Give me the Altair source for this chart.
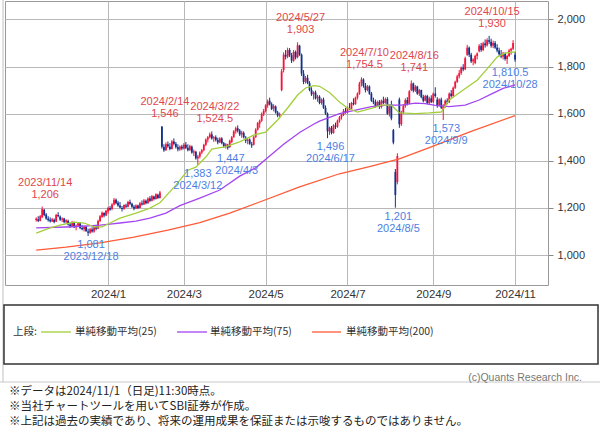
import altair as alt
import pandas as pd

# ---------------- trading calendar (TSE) ----------------
holidays = ["2023-11-23", "2024-01-01", "2024-01-02", "2024-01-03", "2024-01-08",
            "2024-02-12", "2024-02-23", "2024-03-20", "2024-04-29", "2024-05-03",
            "2024-05-06", "2024-07-15", "2024-08-12", "2024-09-16", "2024-09-23",
            "2024-10-14"]
trade_days = [d for d in pd.bdate_range("2023-11-09", "2024-11-01")
              if d.strftime("%Y-%m-%d") not in holidays]

# ---------------- daily OHLC ----------------
open_ = [
    1148, 1152, 1145, 1160, 1192, 1172, 1155, 1150, 1143, 1150, 1142, 1170, 1163, 1150, 1155,
    1140, 1145, 1130, 1122, 1138, 1118, 1125, 1135, 1115, 1110, 1120, 1100, 1095, 1108, 1100, 1118, 1112, 1145, 1162, 1178, 1168,
    1185, 1200, 1195, 1215, 1235, 1222, 1210, 1200, 1195, 1210, 1205, 1225, 1218, 1205, 1198, 1210, 1200, 1220, 1215,
    1230, 1220, 1240, 1230, 1248, 1238, 1256, 1242, 1546, 1458, 1445, 1470, 1460, 1450, 1482, 1472, 1458, 1448, 1460,
    1452, 1468, 1455, 1445, 1460, 1435, 1438, 1410, 1418, 1435, 1445, 1468, 1490, 1500, 1512, 1495, 1500, 1488, 1478, 1495,
    1475, 1462, 1468, 1458, 1480, 1500, 1525, 1538, 1528, 1512, 1518, 1498, 1485, 1490, 1470, 1468, 1500, 1532, 1558, 1570, 1598,
    1612, 1635, 1655, 1640, 1622, 1630, 1605, 1592, 1700, 1785, 1850, 1842, 1870, 1848, 1825, 1862, 1840, 1888, 1850, 1770, 1735,
    1752, 1730, 1700, 1682, 1690, 1665, 1672, 1645, 1660, 1625, 1600, 1525, 1540, 1518, 1550, 1545, 1570, 1585, 1595, 1612,
    1605, 1625, 1620, 1645, 1640, 1668, 1685, 1728, 1745, 1718, 1700, 1715, 1685, 1655, 1648, 1632, 1650, 1628, 1655, 1645, 1662, 1600,
    1640, 1530, 1352, 1310, 1660, 1555, 1605, 1632, 1658, 1642, 1700, 1728, 1698, 1715, 1685, 1700, 1670, 1655, 1675, 1645, 1665,
    1650, 1685, 1660, 1635, 1660, 1615, 1632, 1655, 1648, 1685, 1675, 1710, 1735, 1758, 1772, 1795, 1788, 1850, 1880,
    1850, 1822, 1815, 1845, 1865, 1888, 1870, 1898, 1890, 1912, 1905, 1888, 1900, 1880, 1868, 1852, 1842, 1855, 1832, 1845, 1868, 1875,
    1850,
]
high = [
    1160, 1165, 1170, 1206, 1196, 1178, 1165, 1160, 1158, 1155, 1175, 1182, 1168, 1160, 1158,
    1152, 1150, 1140, 1145, 1142, 1130, 1140, 1138, 1128, 1125, 1124, 1112, 1115, 1118, 1122, 1128, 1150, 1170, 1185, 1182, 1192,
    1205, 1208, 1220, 1242, 1240, 1230, 1225, 1208, 1215, 1218, 1230, 1235, 1222, 1212, 1215, 1214, 1225, 1232, 1238,
    1236, 1245, 1250, 1255, 1252, 1262, 1260, 1272, 1546, 1470, 1478, 1482, 1475, 1488, 1495, 1480, 1470, 1465, 1468,
    1475, 1480, 1470, 1468, 1465, 1448, 1442, 1425, 1440, 1450, 1472, 1495, 1505, 1520, 1524.5, 1505, 1508, 1498, 1500, 1500,
    1480, 1475, 1472, 1490, 1505, 1530, 1545, 1550, 1535, 1528, 1525, 1505, 1498, 1495, 1480, 1505, 1538, 1565, 1575, 1605, 1620,
    1640, 1660, 1668, 1648, 1640, 1635, 1612, 1605, 1790, 1860, 1870, 1880, 1878, 1858, 1870, 1868, 1903, 1892, 1855, 1785, 1760,
    1765, 1738, 1712, 1695, 1698, 1680, 1678, 1665, 1668, 1635, 1605, 1545, 1548, 1555, 1562, 1575, 1590, 1600, 1620, 1625,
    1630, 1645, 1650, 1665, 1672, 1690, 1735, 1754.5, 1750, 1730, 1722, 1720, 1692, 1668, 1660, 1655, 1658, 1660, 1672, 1668, 1670, 1640,
    1655, 1535, 1365, 1432, 1668, 1612, 1640, 1665, 1670, 1700, 1741, 1732, 1722, 1718, 1705, 1702, 1680, 1680, 1680, 1672, 1678,
    1690, 1712, 1670, 1665, 1668, 1640, 1660, 1665, 1690, 1700, 1715, 1740, 1765, 1785, 1800, 1810, 1842, 1892, 1885,
    1858, 1835, 1850, 1860, 1895, 1900, 1905, 1915, 1920, 1930, 1918, 1910, 1908, 1895, 1880, 1870, 1862, 1860, 1850, 1875, 1880, 1912,
    1862,
]
low = [
    1142, 1140, 1143, 1158, 1165, 1150, 1142, 1138, 1140, 1135, 1140, 1160, 1145, 1140, 1135,
    1132, 1125, 1115, 1118, 1115, 1105, 1120, 1110, 1105, 1100, 1098, 1081, 1090, 1095, 1095, 1105, 1110, 1140, 1158, 1160, 1165,
    1175, 1188, 1190, 1210, 1215, 1205, 1198, 1185, 1192, 1200, 1202, 1212, 1200, 1190, 1195, 1195, 1198, 1210, 1212,
    1215, 1218, 1225, 1228, 1232, 1235, 1238, 1240, 1452, 1438, 1442, 1455, 1445, 1448, 1465, 1452, 1440, 1442, 1445,
    1448, 1450, 1440, 1442, 1430, 1420, 1405, 1383, 1410, 1428, 1440, 1462, 1478, 1495, 1490, 1480, 1482, 1470, 1475, 1470,
    1455, 1452, 1447, 1455, 1475, 1498, 1515, 1520, 1505, 1498, 1495, 1475, 1470, 1468, 1455, 1465, 1498, 1528, 1540, 1565, 1590,
    1605, 1625, 1635, 1615, 1610, 1600, 1585, 1580, 1695, 1775, 1830, 1835, 1840, 1815, 1820, 1830, 1835, 1845, 1760, 1725, 1728,
    1725, 1695, 1675, 1660, 1660, 1650, 1640, 1638, 1620, 1595, 1496, 1510, 1512, 1515, 1535, 1540, 1562, 1575, 1590, 1600,
    1600, 1615, 1618, 1635, 1638, 1660, 1680, 1715, 1710, 1690, 1695, 1680, 1650, 1640, 1625, 1628, 1620, 1622, 1640, 1642, 1595, 1588,
    1572, 1470, 1201, 1300, 1540, 1548, 1598, 1625, 1635, 1640, 1695, 1690, 1692, 1680, 1675, 1665, 1648, 1652, 1640, 1640, 1645,
    1645, 1668, 1625, 1630, 1620, 1573, 1625, 1640, 1645, 1668, 1670, 1705, 1730, 1750, 1765, 1780, 1785, 1845, 1840,
    1815, 1805, 1810, 1830, 1860, 1862, 1865, 1880, 1885, 1895, 1880, 1878, 1875, 1860, 1845, 1835, 1830, 1825, 1810.5, 1840, 1850, 1870,
    1820,
]
close = [
    1155, 1145, 1165, 1195, 1170, 1155, 1148, 1143, 1152, 1140, 1170, 1165, 1150, 1155, 1140,
    1148, 1130, 1120, 1140, 1118, 1125, 1135, 1115, 1110, 1120, 1102, 1095, 1110, 1100, 1118, 1112, 1145, 1165, 1180, 1168, 1188,
    1200, 1192, 1215, 1235, 1220, 1210, 1202, 1195, 1212, 1205, 1225, 1218, 1205, 1198, 1210, 1200, 1220, 1215, 1232,
    1220, 1240, 1230, 1250, 1238, 1258, 1242, 1265, 1460, 1445, 1470, 1462, 1450, 1482, 1472, 1458, 1448, 1460, 1452,
    1468, 1455, 1445, 1462, 1435, 1440, 1410, 1418, 1435, 1445, 1468, 1490, 1500, 1512, 1495, 1500, 1488, 1478, 1495, 1475,
    1462, 1470, 1455, 1485, 1500, 1525, 1538, 1528, 1512, 1520, 1500, 1485, 1490, 1472, 1465, 1500, 1532, 1560, 1570, 1598, 1612,
    1635, 1652, 1640, 1620, 1632, 1605, 1592, 1598, 1780, 1850, 1842, 1870, 1848, 1825, 1862, 1838, 1890, 1850, 1770, 1735, 1752,
    1730, 1700, 1682, 1690, 1665, 1672, 1645, 1660, 1625, 1600, 1525, 1540, 1518, 1550, 1545, 1570, 1585, 1595, 1612, 1605,
    1625, 1620, 1645, 1640, 1668, 1685, 1728, 1745, 1718, 1700, 1715, 1685, 1655, 1648, 1632, 1650, 1628, 1655, 1645, 1662, 1600, 1630,
    1580, 1478, 1255, 1420, 1555, 1605, 1632, 1658, 1642, 1695, 1728, 1698, 1715, 1685, 1700, 1670, 1655, 1675, 1645, 1665, 1650,
    1685, 1675, 1635, 1660, 1625, 1632, 1655, 1648, 1685, 1675, 1710, 1735, 1758, 1772, 1795, 1788, 1835, 1880, 1850,
    1822, 1830, 1845, 1855, 1888, 1870, 1898, 1890, 1912, 1905, 1888, 1900, 1880, 1868, 1852, 1842, 1855, 1832, 1845, 1868, 1875, 1900,
    1830,
]

# ---------------- moving averages (sampled from the chart) ----------------
ma25_pos = [0, 7, 12, 19, 24, 29, 33, 37, 42, 50, 57, 62, 70, 76, 80, 85, 88, 95, 102, 109, 115, 121, 126,
            131, 135, 139, 142, 147, 152, 156, 161, 168, 173, 178, 182, 190, 197, 203, 207, 214, 221, 226, 231, 235, 240]
ma25_val = [1093, 1115, 1127, 1140, 1136, 1120, 1120, 1136, 1157, 1178, 1199, 1222, 1297, 1360, 1373, 1416, 1450,
            1460, 1480, 1509, 1522, 1573, 1624, 1679, 1709, 1719, 1716, 1690, 1649, 1624, 1607, 1622, 1636, 1636,
            1603, 1600, 1603, 1607, 1658, 1700, 1742, 1790, 1840, 1857, 1862]
ma75_pos = [0, 15, 24, 32, 37, 42, 50, 57, 65, 72, 82, 92, 102, 110, 117, 124, 132, 139, 142, 146, 152, 160,
            168, 176, 183, 190, 195, 200, 207, 215, 222, 228, 234, 240]
ma75_val = [1115, 1119, 1123, 1127, 1131, 1136, 1144, 1157, 1178, 1210, 1242, 1276, 1335, 1370, 1420, 1470, 1520,
            1555, 1568, 1581, 1600, 1615, 1630, 1636, 1636, 1645, 1643, 1635, 1630, 1636, 1658, 1683, 1707, 1722]
ma200_pos = [0, 15, 32, 49, 66, 82, 97, 111, 132, 152, 167, 182, 199, 217, 240]
ma200_val = [1021, 1034, 1052, 1076, 1106, 1138, 1178, 1222, 1289, 1345, 1375, 1408, 1462, 1522, 1592]

# ---------------- high / low annotations ----------------
anno_dates = ["2023-11-14", "2024-02-14", "2024-03-22", "2024-05-27", "2024-07-10", "2024-08-16", "2024-10-15",
              "2023-12-18", "2024-03-12", "2024-04-03", "2024-06-17", "2024-08-05", "2024-09-09", "2024-10-28"]
anno_prices = [1206, 1546, 1524.5, 1903, 1754.5, 1741, 1930,
               1081, 1383, 1447, 1496, 1201, 1573, 1810.5]
anno_kinds = ["high"] * 7 + ["low"] * 7

tick_months = ["2024-01", "2024-03", "2024-05", "2024-07", "2024-09", "2024-11"]
tick_labels = ["2024/1", "2024/3", "2024/5", "2024/7", "2024/9", "2024/11"]
price_ticks = [1000, 1200, 1400, 1600, 1800, 2000]

legend_labels = ["単純移動平均(25)", "単純移動平均(75)", "単純移動平均(200)"]
footnotes = ["※データは2024/11/1（日足)11:30時点。",
             "※当社チャートツールを用いてSBI証券が作成。",
             "※上記は過去の実績であり、将来の運用成果を保証または示唆するものではありません。"]

# label nudges (pixels) to keep two crowded low labels apart, as in the reference
label_nudge = {"2024-03-12": -3, "2024-04-03": 6}

# ---------------- build tables ----------------
keys = [d.strftime("%Y-%m-%d") for d in trade_days]
pos_of = {k: i for i, k in enumerate(keys)}
tick_pos = [min(i for i, k in enumerate(keys) if k.startswith(m)) for m in tick_months]

candles = pd.DataFrame({
    "pos": list(range(len(trade_days))),
    "open": open_, "high": high, "low": low, "close": close,
})
candles["dir"] = ["up" if c >= o else "down" for o, c in zip(open_, close)]


def fmt_val(v):
    return f"{int(v):,}" if float(v).is_integer() else f"{v:,}"


anno = pd.DataFrame({
    "date": anno_dates,
    "pos": [pos_of[d] for d in anno_dates],
    "price": anno_prices,
    "kind": anno_kinds,
    "dlabel": [f"{int(d[0:4])}/{int(d[5:7])}/{int(d[8:10])}" for d in anno_dates],
    "vlabel": [fmt_val(v) for v in anno_prices],
})

RED = "#f5143c"
BLUE = "#12318c"
HI_TXT = "#e0474c"
LO_TXT = "#4d7fe3"
C25, C75, C200 = "#a3cf3a", "#a445f2", "#ff5a36"
NUM_FONT = "Liberation Sans"
JP_FONT = "Noto Sans CJK JP"

xs = alt.Scale(domain=[-15.64, 256.5], nice=False, zero=False)
ys = alt.Scale(domain=[873, 2078], nice=False, zero=False)

label_expr = " : ".join(f"datum.value == {p} ? '{l}'" for p, l in zip(tick_pos, tick_labels)) + " : ''"

x_axis = alt.Axis(values=tick_pos, labelExpr=label_expr, grid=True, gridColor="#b8b8b8",
                  domain=False, ticks=False, labelFont=NUM_FONT, labelFontSize=11.5,
                  labelColor="#333333", labelPadding=3, title=None, labelFlush=False)
y_axis = alt.Axis(orient="right", values=price_ticks, format=",d",
                  grid=True, gridColor="#b8b8b8", domain=False, tickColor="#888888", tickSize=5,
                  labelFont=NUM_FONT, labelFontSize=11, labelColor="#333333", labelPadding=4,
                  title=None)


def X(field):
    return alt.X(f"{field}:Q", scale=xs, axis=x_axis)


def Y(field):
    return alt.Y(f"{field}:Q", scale=ys, axis=y_axis)


color = alt.Color("dir:N", scale=alt.Scale(domain=["up", "down"], range=[RED, BLUE]), legend=None)

base = alt.Chart(candles)
wick = base.mark_rule(strokeWidth=1).encode(x=X("pos"), y=Y("low"), y2="high:Q", color=color)
body = base.mark_rule(strokeWidth=1.8).encode(x=X("pos"), y=Y("open"), y2="close:Q", color=color)


def ma_layer(p, v, col):
    df = pd.DataFrame({"pos": p, "val": v})
    return alt.Chart(df).mark_line(color=col, strokeWidth=1.3).encode(x=X("pos"), y=Y("val"))


ma200 = ma_layer(ma200_pos, ma200_val, C200)
ma75 = ma_layer(ma75_pos, ma75_val, C75)
ma25 = ma_layer(ma25_pos, ma25_val, C25)


def anno_text(df, field, dx, dy, col):
    return alt.Chart(df).mark_text(
        dx=dx, dy=dy, color=col, font=NUM_FONT, fontSize=11, baseline="middle", align="center"
    ).encode(x=X("pos"), y=Y("price"), text=f"{field}:N")


annos = []
plain = anno[~anno["date"].isin(list(label_nudge))]
for kind, lines, col in [("high", [("dlabel", -24), ("vlabel", -12)], HI_TXT),
                         ("low", [("vlabel", 9), ("dlabel", 21)], LO_TXT)]:
    sub = plain[plain["kind"] == kind]
    for field, dy in lines:
        annos.append(anno_text(sub, field, 3, dy, col))
for d, nudge in label_nudge.items():
    sub = anno[anno["date"] == d]
    annos.append(anno_text(sub, "vlabel", 3 + (nudge if d == "2024-03-12" else 0), 9, LO_TXT))
    annos.append(anno_text(sub, "dlabel", 3 + nudge, 21, LO_TXT))

# ---------------- frame, legend box, footnotes (pixel layout) ----------------
one = pd.DataFrame({"k": [0]})


def prule(x1, x2, y1, y2, col, w):
    return alt.Chart(one).mark_rule(color=col, strokeWidth=w).encode(
        x=alt.value(x1), x2=alt.value(x2), y=alt.value(y1), y2=alt.value(y2))


frame = [
    prule(-2, -2, -1, 381, "#c0c0c0", 1),
    prule(-5, 595, 381, 381, "#c8c8c8", 1),
]
legend_box = alt.Chart(one).mark_rect(fill="white", stroke="#333333", strokeWidth=1.5).encode(
    x=alt.value(-1), x2=alt.value(593), y=alt.value(304), y2=alt.value(363))


def ptext(txt, x, y, size, col, font=JP_FONT, align="left"):
    return alt.Chart(one).mark_text(align=align, baseline="middle", font=font, fontSize=size,
                                    color=col, lineHeight=15).encode(
        x=alt.value(x), y=alt.value(y), text=alt.value(txt))


legend_items = [
    ptext("上段:", 8, 331, 10.5, "#333333"),
    prule(36, 66, 331, 331, C25, 1.3),
    ptext(legend_labels[0], 70, 331, 10.5, "#333333"),
    prule(172, 202, 331, 331, C75, 1.3),
    ptext(legend_labels[1], 205, 331, 10.5, "#333333"),
    prule(307, 336, 331, 331, C200, 1.3),
    ptext(legend_labels[2], 341, 331, 10.5, "#333333"),
]
copyright_txt = ptext("(c)Quants Research Inc.", 577, 377, 10.5, "#777777", font=NUM_FONT, align="right")
notes = ptext(footnotes, 4, 391, 11.5, "#222222")

chart = alt.layer(
    wick, body, ma200, ma75, ma25, *annos,
    *frame, legend_box, *legend_items, copyright_txt, notes,
).properties(
    width=543, height=284,
    padding={"left": 5, "top": 1, "right": 52, "bottom": 145},
    autosize=alt.AutoSizeParams(type="none"),
    background="white",
).configure_view(stroke="#999999", strokeWidth=1)

chart.save("out.html", embed_options={"renderer": "svg", "actions": False})
